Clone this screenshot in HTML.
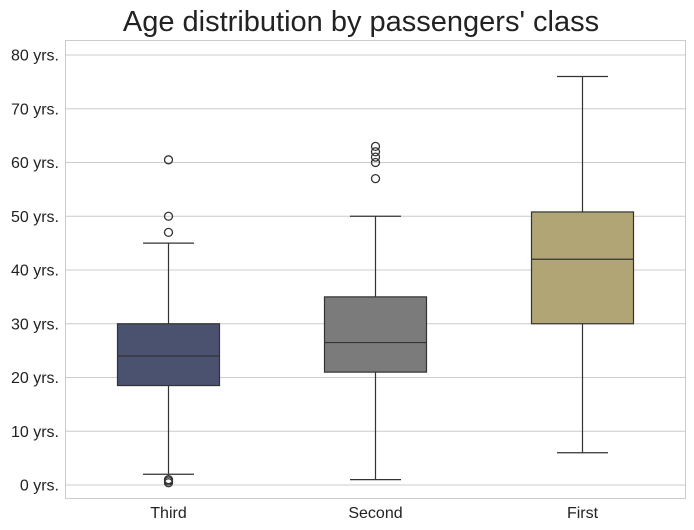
<!DOCTYPE html>
<html><head><meta charset="utf-8"><style>
body{margin:0;background:#fff;}
svg{display:block;font-family:"Liberation Sans",sans-serif;}
</style></head><body>
<svg id="chart" width="694" height="530" viewBox="0 0 694 530">
<text x="361" y="31" text-anchor="middle" font-size="29" fill="#222">Age distribution by passengers' class</text>
<rect x="65.5" y="40.5" width="620" height="458" fill="#fff" stroke="#ccc"/>
<g id="grid"></g><g id="boxes"></g>
</svg>
<script>
const categories=["Third","Second","First"];
const lowWhisker=[2,1,6];
const q1=[18.5,21,30];
const median=[24,26.5,42];
const q3=[30,35,50.8];
const highWhisker=[45,50,76];
const outliers=[[60.5,50,47,1,0.75,0.42],[57,60,61,62,63],[]];
const colors=["#4a5270","#7b7b7b","#b2a575"];
const ticks=[0,10,20,30,40,50,60,70,80];
const tickLabels=ticks.map(t=>t+" yrs.");
const NS="http://www.w3.org/2000/svg";
const y=v=>485-5.375*v;
const x=i=>168.5+i*207;
function mk(tag,attrs,parent){const e=document.createElementNS(NS,tag);for(const k in attrs)e.setAttribute(k,attrs[k]);parent.appendChild(e);return e;}
const g=document.getElementById('grid'),b=document.getElementById('boxes');
ticks.forEach((t,i)=>{
 const l=mk('line',{x1:66,x2:685,y1:y(t),y2:y(t),stroke:'#ccc','stroke-width':1},g);
 
 
 const tx=mk('text',{x:59,y:y(t)+5.5,'text-anchor':'end','font-size':16,fill:'#222'},g);
 tx.textContent=tickLabels[i];
 
 
});
categories.forEach((c,i)=>{
 const cx=x(i),w=102,s='#333';
 const grp=mk('g',{'stroke-width':1.2},b);
 
 
 mk('line',{x1:cx,x2:cx,y1:y(lowWhisker[i]),y2:y(q1[i]),stroke:s},grp);
 mk('line',{x1:cx,x2:cx,y1:y(q3[i]),y2:y(highWhisker[i]),stroke:s},grp);
 mk('line',{x1:cx-w/4,x2:cx+w/4,y1:y(lowWhisker[i]),y2:y(lowWhisker[i]),stroke:s},grp);
 mk('line',{x1:cx-w/4,x2:cx+w/4,y1:y(highWhisker[i]),y2:y(highWhisker[i]),stroke:s},grp);
 mk('rect',{x:cx-w/2,y:y(q3[i]),width:w,height:y(q1[i])-y(q3[i]),fill:colors[i],stroke:s},grp);
 mk('line',{x1:cx-w/2,x2:cx+w/2,y1:y(median[i]),y2:y(median[i]),stroke:s},grp);
 outliers[i].forEach(o=>{
  const p=mk('circle',{cx:cx,cy:y(o),r:4,fill:'none',stroke:s,'stroke-width':1.3},grp);
  
  
 });
 const t=mk('text',{x:cx,y:518,'text-anchor':'middle','font-size':16,fill:'#222'},b);
 t.textContent=c;
 
 
});
</script>
</body></html>
